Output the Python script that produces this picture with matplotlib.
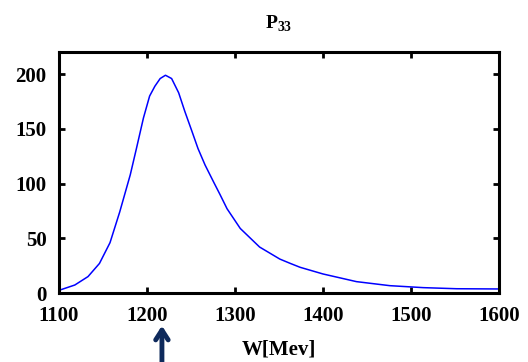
import matplotlib
matplotlib.use("Agg")
import matplotlib.pyplot as plt

plt.rcParams['font.family'] = ['Liberation Serif', 'DejaVu Serif']
plt.rcParams['font.weight'] = 'bold'
plt.rcParams['mathtext.fontset'] = 'custom'
plt.rcParams['mathtext.rm'] = 'Liberation Serif:bold'

# curve
w = [1100, 1101, 1118, 1133, 1146, 1158, 1169, 1181, 1188, 1196, 1203, 1209,
     1215, 1221, 1228, 1236, 1243, 1251, 1258, 1266, 1276, 1283, 1291, 1306,
     1328, 1351, 1363, 1374, 1400, 1438, 1476, 1514, 1552, 1597, 1600]
p33 = [2.2, 2.7, 7.3, 15, 27, 46, 74, 108, 132, 160, 180, 189,
       196, 199, 196, 183, 166, 148, 132, 117, 101, 90, 77, 59,
       42, 31, 27, 23.5, 17.4, 10.4, 6.7, 4.9, 3.9, 3.7, 3.7]
x_ticks = [1100, 1200, 1300, 1400, 1500, 1600]
y_ticks = [0, 50, 100, 150, 200]
arrow_w = 1217

fig = plt.figure(figsize=(5.28, 3.62), dpi=100)
ax = fig.add_axes([0.1117, 0.1906, 0.8333, 0.665])

ax.plot(w, p33, color="#0000ff", linewidth=1.1)

ax.set_xlim(1100, 1600)
ax.set_ylim(0, 220)
ax.set_xticks(x_ticks)
ax.set_yticks(y_ticks)
ax.tick_params(which='both', direction="in", top=True, right=True,
               length=4, width=2, labelsize=15)
ax.tick_params(axis='x', pad=9)
ax.tick_params(axis='y', pad=9)
for s in ax.spines.values():
    s.set_linewidth(2.2)
ax.set_title(r"P$_{33}$", fontsize=14, fontweight='bold', pad=17)
ax.set_xlabel("W[Mev]", fontsize=15, fontweight='bold', labelpad=10)

# arrow under the x axis marking the peak
ax.annotate("", xy=(arrow_w, 0.108), xycoords=("data", "figure fraction"),
            xytext=(arrow_w, -0.01), textcoords=("data", "figure fraction"),
            arrowprops=dict(arrowstyle="->,head_length=0.7,head_width=0.45",
                            color="#0e2a5c", lw=3.5),
            annotation_clip=False)

fig.savefig("out.png", dpi=100)
